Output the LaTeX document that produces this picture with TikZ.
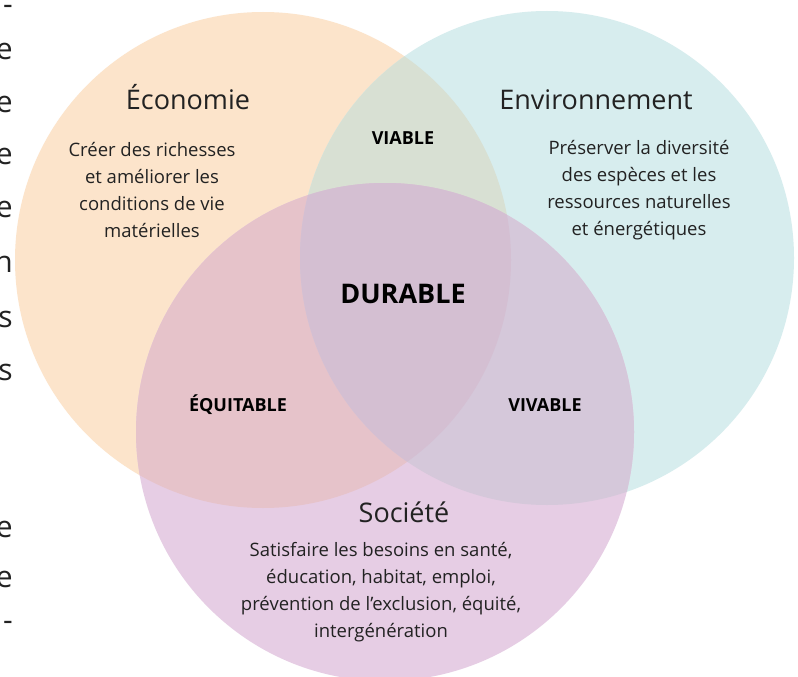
\documentclass[tikz,border=0pt]{standalone}
\usepackage{fontspec}
\setmainfont{Open Sans}
\definecolor{ecocol}{HTML}{FCE4CB}
\definecolor{envcol}{HTML}{D7EDEE}
\definecolor{soccol}{HTML}{E6CDE4}
\definecolor{eecol}{HTML}{D8E0D3}
\definecolor{escol}{HTML}{E6C3CA}
\definecolor{nscol}{HTML}{D5C8DA}
\definecolor{allcol}{HTML}{D4BFD2}
\definecolor{txtcol}{HTML}{222222}
\tikzset{
  titletxt/.style={font=\fontsize{27}{32}\selectfont, text=txtcol, anchor=base, inner sep=0pt},
  bodytxt/.style={font=\fontsize{18.5}{26.8}\selectfont, text=txtcol, align=center, anchor=base, inner sep=0pt},
  labeltxt/.style={font=\bfseries\fontsize{18}{22}\selectfont, text=black, anchor=base, inner sep=0pt},
  bigtxt/.style={font=\bfseries\fontsize{27}{32}\selectfont, text=black, anchor=base, inner sep=0pt},
  edgetxt/.style={font=\fontsize{30}{36}\selectfont, text=txtcol, anchor=mid east, inner sep=0pt}
}
\begin{document}
\begin{tikzpicture}[x=1pt,y=-1pt]
\useasboundingbox (0,0) rectangle (798,677);
\clip (0,0) rectangle (798,677);
\fill[white] (0,0) rectangle (798,677);
\coordinate (cE) at (263,260);
\coordinate (cN) at (547,258);
\coordinate (cS) at (385,432);
% base circles
\fill[ecocol] (cE) circle[radius=248pt];
\fill[envcol] (cN) circle[radius=247pt];
\fill[soccol] (cS) circle[radius=249pt];
% pairwise overlaps
\begin{scope}
  \clip (cE) circle[radius=248pt];
  \fill[eecol] (cN) circle[radius=247pt];
  \fill[escol] (cS) circle[radius=249pt];
\end{scope}
\begin{scope}
  \clip (cN) circle[radius=247pt];
  \fill[nscol] (cS) circle[radius=249pt];
  \clip (cS) circle[radius=249pt];
  \fill[allcol] (cE) circle[radius=248pt];
\end{scope}
% titles
\node[titletxt] (teco) at (188,109) {Économie};
\node[titletxt] (tenv) at (596,110) {Environnement};
\node[titletxt] (tsoc) at (404,522) {Société};
% bodies (anchored at the baseline of their last line)
\node[bodytxt] (beco) at (152,237) {Créer des richesses\\et améliorer les\\conditions de vie\\matérielles};
\node[bodytxt] (benv) at (639,235) {Préserver la diversité\\des espèces et les\\ressources naturelles\\et énergétiques};
\node[bodytxt] (bsoc) at (381,637) {Satisfaire les besoins en santé,\\éducation, habitat, emploi,\\prévention de l’exclusion, équité,\\intergénération};
% labels
\node[labeltxt] (lvia) at (403,144) {VIABLE};
\node[labeltxt] (lequ) at (238,411) {ÉQUITABLE};
\node[labeltxt] (lviv) at (545,411) {VIVABLE};
\node[bigtxt] (ldur) at (403,303) {DURABLE};
% cut-off text at the left edge
\foreach \yy/\ch [count=\i] in {12/-,57/e,110/e,162/e,215/e,270/n,325/s,378/s,535/e,585/e,628/-}{
  \node[edgetxt] (edge\i) at (13,\yy) {\ch};
}
\end{tikzpicture}
\end{document}
